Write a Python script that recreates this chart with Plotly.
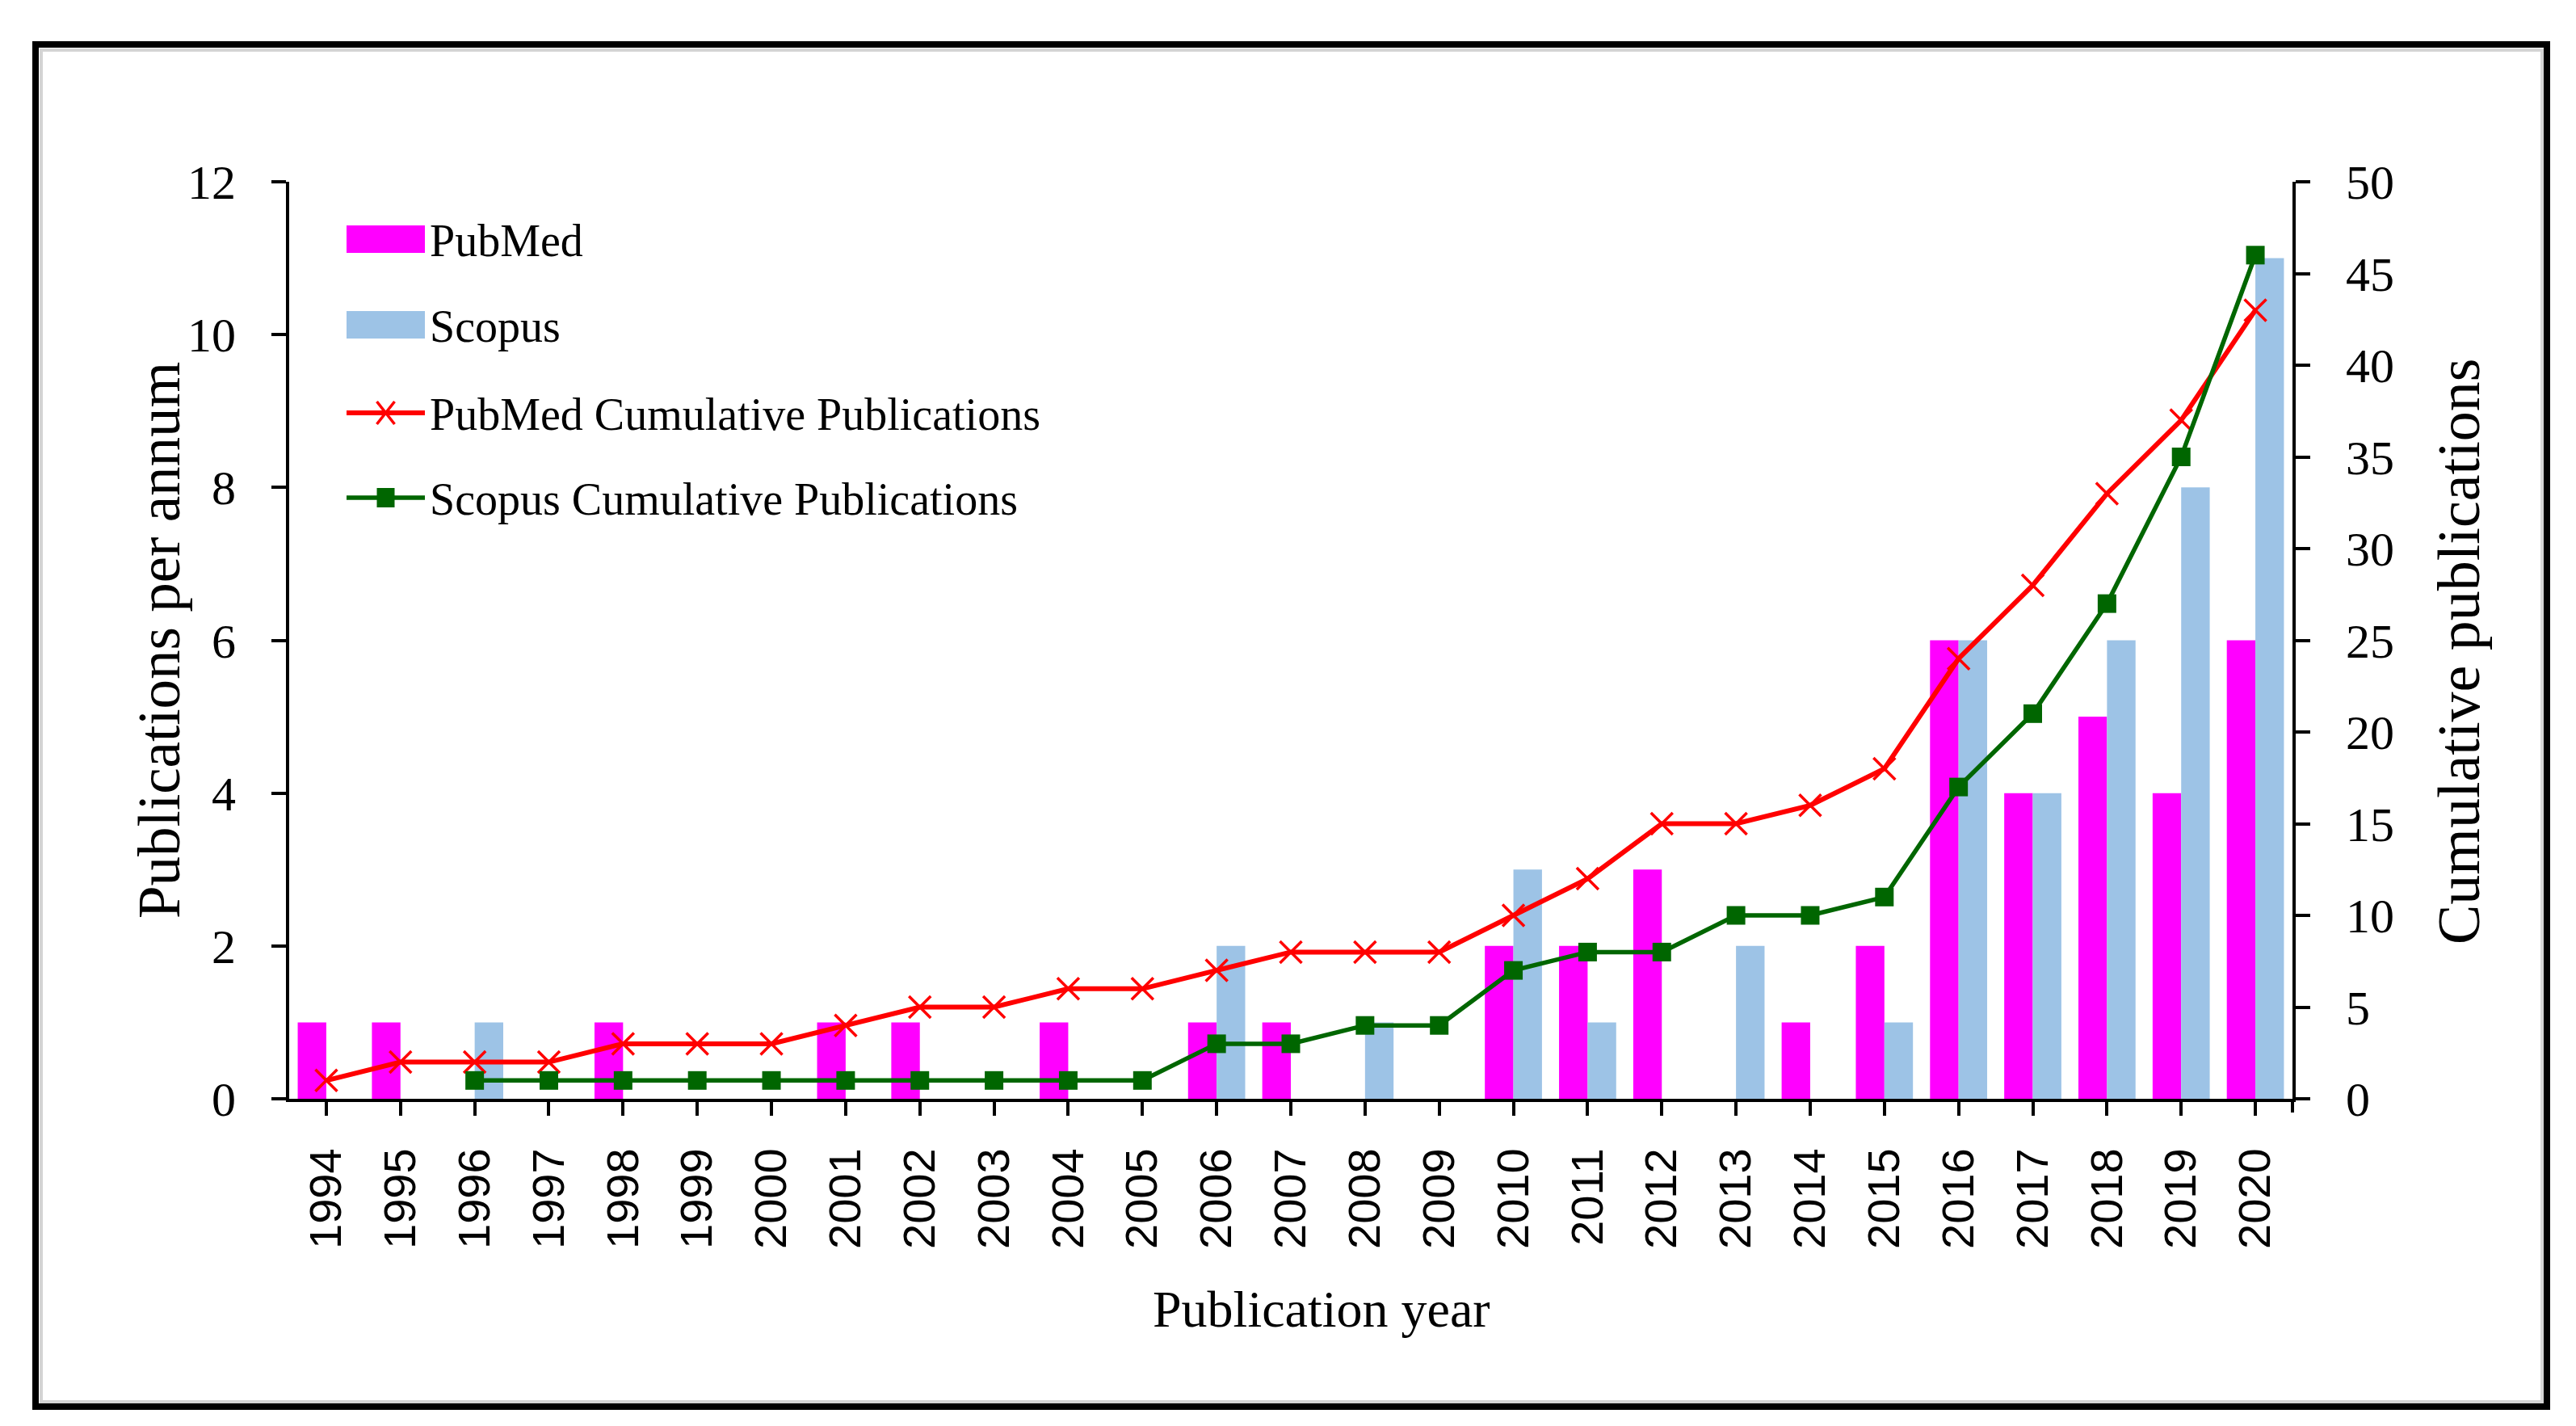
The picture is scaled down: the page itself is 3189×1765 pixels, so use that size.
import plotly.graph_objects as go

# ---------------- data ----------------
years = ["1994", "1995", "1996", "1997", "1998", "1999", "2000", "2001", "2002",
         "2003", "2004", "2005", "2006", "2007", "2008", "2009", "2010", "2011",
         "2012", "2013", "2014", "2015", "2016", "2017", "2018", "2019", "2020"]
pubmed = [1, 1, 0, 0, 1, 0, 0, 1, 1, 0, 1, 0, 1, 1, 0, 0, 2, 2, 3, 0, 1, 2, 6, 4, 5, 4, 6]
scopus = [0, 0, 1, 0, 0, 0, 0, 0, 0, 0, 0, 0, 2, 0, 1, 0, 3, 1, 0, 2, 0, 1, 6, 4, 6, 8, 11]
pubmed_cum = [1, 2, 2, 2, 3, 3, 3, 4, 5, 5, 6, 6, 7, 8, 8, 8, 10, 12, 15, 15, 16, 18, 24, 28, 33, 37, 43]
scopus_cum = [None, None, 1, 1, 1, 1, 1, 1, 1, 1, 1, 1, 3, 3, 4, 4, 7, 8, 8, 10, 10, 11, 17, 21, 27, 35, 46]

left_ticks = [0, 2, 4, 6, 8, 10, 12]
right_ticks = [0, 5, 10, 15, 20, 25, 30, 35, 40, 45, 50]

legend_labels = ["PubMed", "Scopus", "PubMed Cumulative Publications", "Scopus Cumulative Publications"]

# ---------------- styling ----------------
W, H = 3189, 1765
L, R, T, B = 350, 2830, 217, 1352
SERIF = "Liberation Serif"
SANS = "Liberation Sans"
C_PUB = "#FF00FF"
C_SCO = "#9DC3E6"
C_RED = "#FF0000"
C_GRN = "#006600"


def px(x):
    return (x - L) / (R - L)


def py(y):
    return (B - y) / (B - T)


fig = go.Figure()
fig.add_trace(go.Bar(x=years, y=pubmed, name=legend_labels[0], marker=dict(color=C_PUB, line=dict(width=0)),
                     showlegend=False, yaxis="y"))
fig.add_trace(go.Bar(x=years, y=scopus, name=legend_labels[1], marker=dict(color=C_SCO, line=dict(width=0)),
                     showlegend=False, yaxis="y"))
fig.add_trace(go.Scatter(x=years, y=pubmed_cum, name=legend_labels[2], mode="lines+markers",
                         line=dict(color=C_RED, width=6),
                         marker=dict(symbol="x-thin", size=27, color=C_RED, line=dict(color=C_RED, width=3.5)),
                         showlegend=False, yaxis="y2"))
fig.add_trace(go.Scatter(x=years, y=scopus_cum, name=legend_labels[3], mode="lines+markers",
                         line=dict(color=C_GRN, width=5.5),
                         marker=dict(symbol="square", size=23, color=C_GRN, line=dict(width=0)),
                         showlegend=False, yaxis="y2", connectgaps=False))

shapes = []
# outer frame
shapes.append(dict(type="rect", xref="paper", yref="paper", x0=px(36), y0=py(47), x1=px(3145), y1=py(1733),
                   line=dict(color="black", width=8), fillcolor="rgba(0,0,0,0)", layer="above"))
shapes.append(dict(type="rect", xref="paper", yref="paper", x0=px(43), y0=py(54), x1=px(3139), y1=py(1727),
                   line=dict(color="#d4d4d4", width=4), fillcolor="rgba(0,0,0,0)", layer="above"))
# extra end tick at the right end of the x axis
shapes.append(dict(type="line", xref="paper", yref="paper", x0=1, x1=1, y0=0, y1=py(B + 17),
                   line=dict(color="black", width=4)))

# manual legend keys
kx0, kx1 = 421, 518
kc = (kx0 + kx1) / 2
rows = [288, 394, 503, 608]
shapes.append(dict(type="rect", xref="paper", yref="paper", x0=px(kx0), x1=px(kx1),
                   y0=py(rows[0] - 17), y1=py(rows[0] + 17), fillcolor=C_PUB, line=dict(width=0)))
shapes.append(dict(type="rect", xref="paper", yref="paper", x0=px(kx0), x1=px(kx1),
                   y0=py(rows[1] - 17), y1=py(rows[1] + 17), fillcolor=C_SCO, line=dict(width=0)))
shapes.append(dict(type="line", xref="paper", yref="paper", x0=px(kx0), x1=px(kx1),
                   y0=py(rows[2]), y1=py(rows[2]), line=dict(color=C_RED, width=6)))
shapes.append(dict(type="line", xref="paper", yref="paper", x0=px(kc - 11), x1=px(kc + 11),
                   y0=py(rows[2] - 14), y1=py(rows[2] + 14), line=dict(color=C_RED, width=3.5)))
shapes.append(dict(type="line", xref="paper", yref="paper", x0=px(kc - 11), x1=px(kc + 11),
                   y0=py(rows[2] + 14), y1=py(rows[2] - 14), line=dict(color=C_RED, width=3.5)))
shapes.append(dict(type="line", xref="paper", yref="paper", x0=px(kx0), x1=px(kx1),
                   y0=py(rows[3]), y1=py(rows[3]), line=dict(color=C_GRN, width=5.5)))
shapes.append(dict(type="rect", xref="paper", yref="paper", x0=px(kc - 11), x1=px(kc + 11),
                   y0=py(rows[3] - 12), y1=py(rows[3] + 12), fillcolor=C_GRN, line=dict(width=0)))

annotations = []
for lab, ry in zip(legend_labels, rows):
    annotations.append(dict(text=lab, xref="paper", yref="paper", x=px(522), y=py(ry + 2),
                            xanchor="left", yanchor="middle", showarrow=False,
                            font=dict(family=SERIF, size=56, color="black")))
# axis titles
annotations.append(dict(text="Publications per annum", xref="paper", yref="paper", x=px(190), y=py(785),
                        textangle=-90, xanchor="center", yanchor="middle", showarrow=False,
                        font=dict(family=SERIF, size=73, color="black")))
annotations.append(dict(text="Cumulative publications", xref="paper", yref="paper", x=px(3036), y=py(798),
                        textangle=-90, xanchor="center", yanchor="middle", showarrow=False,
                        font=dict(family=SERIF, size=74, color="black")))
annotations.append(dict(text="Publication year", xref="paper", yref="paper", x=px(1628), y=py(1612),
                        xanchor="center", yanchor="middle", showarrow=False,
                        font=dict(family=SERIF, size=64, color="black")))

axis_common = dict(showline=True, linecolor="black", linewidth=4, ticks="outside", ticklen=18,
                   tickwidth=4, tickcolor="black", showgrid=False, zeroline=False)

fig.update_layout(
    width=W, height=H,
    margin=dict(l=L, r=W - R, t=T, b=H - B, autoexpand=False),
    paper_bgcolor="white", plot_bgcolor="white",
    barmode="group", bargap=0.23, bargroupgap=0,
    showlegend=False,
    xaxis=dict(type="category", range=[-0.5, 26.5], tickangle=-90,
               tickfont=dict(family=SANS, size=56, color="black"), ticklabelstandoff=18,
               **{**axis_common, "ticklen": 17}),
    yaxis=dict(range=[0, 12], tickvals=left_ticks, ticktext=[str(v) for v in left_ticks],
               tickfont=dict(family=SERIF, size=60, color="black"), ticklabelstandoff=32,
               **axis_common),
    yaxis2=dict(range=[0, 50], tickvals=right_ticks, ticktext=[str(v) for v in right_ticks],
                overlaying="y", side="right",
                tickfont=dict(family=SERIF, size=60, color="black"), ticklabelstandoff=32,
                **axis_common),
    shapes=shapes,
    annotations=annotations,
)

fig.write_html("out.html")
